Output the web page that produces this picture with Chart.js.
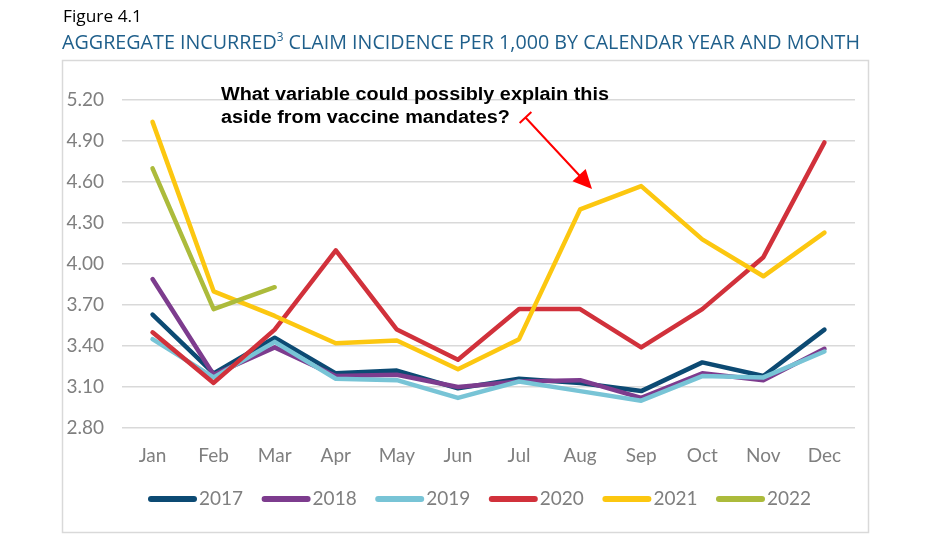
<!DOCTYPE html>
<html>
<head>
<meta charset="utf-8">
<script src="https://cdn.jsdelivr.net/npm/chart.js@4"></script>
<style>
html,body{margin:0;padding:0;background:#fff}
#wrap{width:927px;height:538px;position:relative}
</style>
</head>
<body>
<div id="wrap"><canvas id="c"></canvas></div>
<script>

/* ===== DATA ===== */

const months = ["Jan","Feb","Mar","Apr","May","Jun","Jul","Aug","Sep","Oct","Nov","Dec"]
const years = ["2017","2018","2019","2020","2021","2022"]
const yTicks = [2.80,3.10,3.40,3.70,4.00,4.30,4.60,4.90,5.20]

const v2017 = [3.63,3.20,3.46,3.20,3.22,3.09,3.16,3.13,3.07,3.28,3.18,3.52]
const v2018 = [3.89,3.19,3.39,3.18,3.19,3.10,3.14,3.15,3.02,3.20,3.15,3.38]
const v2019 = [3.45,3.17,3.43,3.16,3.15,3.02,3.14,3.07,3.00,3.18,3.17,3.36]
const v2020 = [3.50,3.13,3.52,4.10,3.52,3.30,3.67,3.67,3.39,3.67,4.05,4.89]
const v2021 = [5.04,3.80,3.62,3.42,3.44,3.23,3.45,4.40,4.57,4.18,3.91,4.23]
const v2022 = [4.70,3.67,3.83]

const colors = ["#0c4a73","#7d3c8e","#78c4d6","#d1313b","#fcc710","#acbb3b"]
const values = [v2017,v2018,v2019,v2020,v2021,v2022]

const tickFont = {family:"Lato, 'Open Sans', sans-serif", size:19}
const tickColor = "#7f7f7f"

/* ===== TEXT HELPER: fit to width ===== */

function fitText(ctx,txt,x,y,w,font,color){
ctx.save()
ctx.font=font
ctx.fillStyle=color
ctx.textBaseline="alphabetic"
const m=ctx.measureText(txt).width
ctx.translate(x,y)
ctx.scale(w/m,1)
ctx.fillText(txt,0,0)
ctx.restore()
}

/* ===== DECOR PLUGIN ===== */

const decor = {

id:"decor",

beforeDraw(chart){
const {ctx,width,height}=chart
ctx.save()
ctx.fillStyle="#fff"
ctx.fillRect(0,0,width,height)
ctx.strokeStyle="#d9d9d9"
ctx.lineWidth=1.5
ctx.strokeRect(62.5,60.5,806,472)
ctx.restore()
},

afterDraw(chart){
const {ctx}=chart

// titles
fitText(ctx,"Figure 4.1",63,22,79,"17px 'Open Sans', sans-serif","#000")

ctx.save()
const f1="20px 'Open Sans', sans-serif", f2="12px 'Open Sans', sans-serif"
const a="AGGREGATE INCURRED", b="3", c=" CLAIM INCIDENCE PER 1,000 BY CALENDAR YEAR AND MONTH"
ctx.font=f1; const wa=ctx.measureText(a).width, wc=ctx.measureText(c).width
ctx.font=f2; const wb=ctx.measureText(b).width
const k=798/(wa+wb+wc)
ctx.translate(62,49)
ctx.scale(k,1)
ctx.fillStyle="#1f5f8b"
ctx.font=f1; ctx.fillText(a,0,0)
ctx.font=f2; ctx.fillText(b,wa,-8)
ctx.font=f1; ctx.fillText(c,wa+wb,0)
ctx.restore()

// annotation
ctx.save()
const fa="bold 18px 'Liberation Sans', Arial, sans-serif"
ctx.font=fa
const l1="What variable could possibly explain this", l2="aside from vaccine mandates?"
const ka=388/ctx.measureText(l1).width
ctx.fillStyle="#000"
ctx.translate(221,100)
ctx.scale(ka,1)
ctx.fillText(l1,0,0)
ctx.fillText(l2,0,23)
ctx.restore()

// arrow
ctx.save()
const tx=525.5, ty=117.5, hx=592, hy=189
const dx=hx-tx, dy=hy-ty, L=Math.hypot(dx,dy), ux=dx/L, uy=dy/L
const px=-uy, py=ux
ctx.strokeStyle="#ff0000"
ctx.fillStyle="#ff0000"
ctx.lineWidth=2
ctx.beginPath()
ctx.moveTo(tx,ty)
ctx.lineTo(hx-16*ux,hy-16*uy)
ctx.moveTo(tx+8*px,ty+8*py)
ctx.lineTo(tx-8*px,ty-8*py)
ctx.stroke()
ctx.beginPath()
ctx.moveTo(hx,hy)
ctx.lineTo(hx-19*ux+9*px,hy-19*uy+9*py)
ctx.lineTo(hx-19*ux-9*px,hy-19*uy-9*py)
ctx.closePath()
ctx.fill()
ctx.restore()

// legend
ctx.save()
ctx.font="19px Lato, 'Open Sans', sans-serif"
ctx.textBaseline="middle"
chart.data.datasets.forEach((ds,i)=>{
const x=151+i*113.6, y=499
ctx.strokeStyle=ds.borderColor
ctx.lineWidth=6
ctx.lineCap="round"
ctx.beginPath()
ctx.moveTo(x,y)
ctx.lineTo(x+43,y)
ctx.stroke()
ctx.fillStyle=tickColor
ctx.fillText(ds.label,x+48,y)
})
ctx.restore()
}

}

/* ===== CHART ===== */

new Chart(document.getElementById("c"),{

type:"line",

data:{
labels:months,
datasets:years.map((y,i)=>({
label:y,
data:values[i],
borderColor:colors[i],
backgroundColor:colors[i],
borderWidth:4.5,
pointRadius:0,
pointHoverRadius:0,
tension:0,
order:years.length-i
}))
},

options:{
responsive:true,
maintainAspectRatio:false,
animation:false,
devicePixelRatio:1,
layout:{padding:{left:62,right:72,top:100,bottom:0}},
plugins:{
legend:{display:false},
tooltip:{enabled:false}
},
elements:{line:{borderJoinStyle:"round",borderCapStyle:"round"}},
scales:{
x:{
offset:true,
grid:{display:false},
border:{display:false},
ticks:{font:tickFont,color:tickColor,padding:8,maxRotation:0},
afterFit(s){s.height=110}
},
y:{
min:2.8,
max:5.2,
grid:{color:"#d9d9d9",lineWidth:1.5,drawTicks:false},
border:{display:false},
ticks:{font:tickFont,color:tickColor,padding:18,callback:v=>Number(v).toFixed(2)},
afterBuildTicks(s){s.ticks=yTicks.map(v=>({value:v}))},
afterFit(s){s.width=60}
}
}
},

plugins:[decor]

})

</script>
</body>
</html>
